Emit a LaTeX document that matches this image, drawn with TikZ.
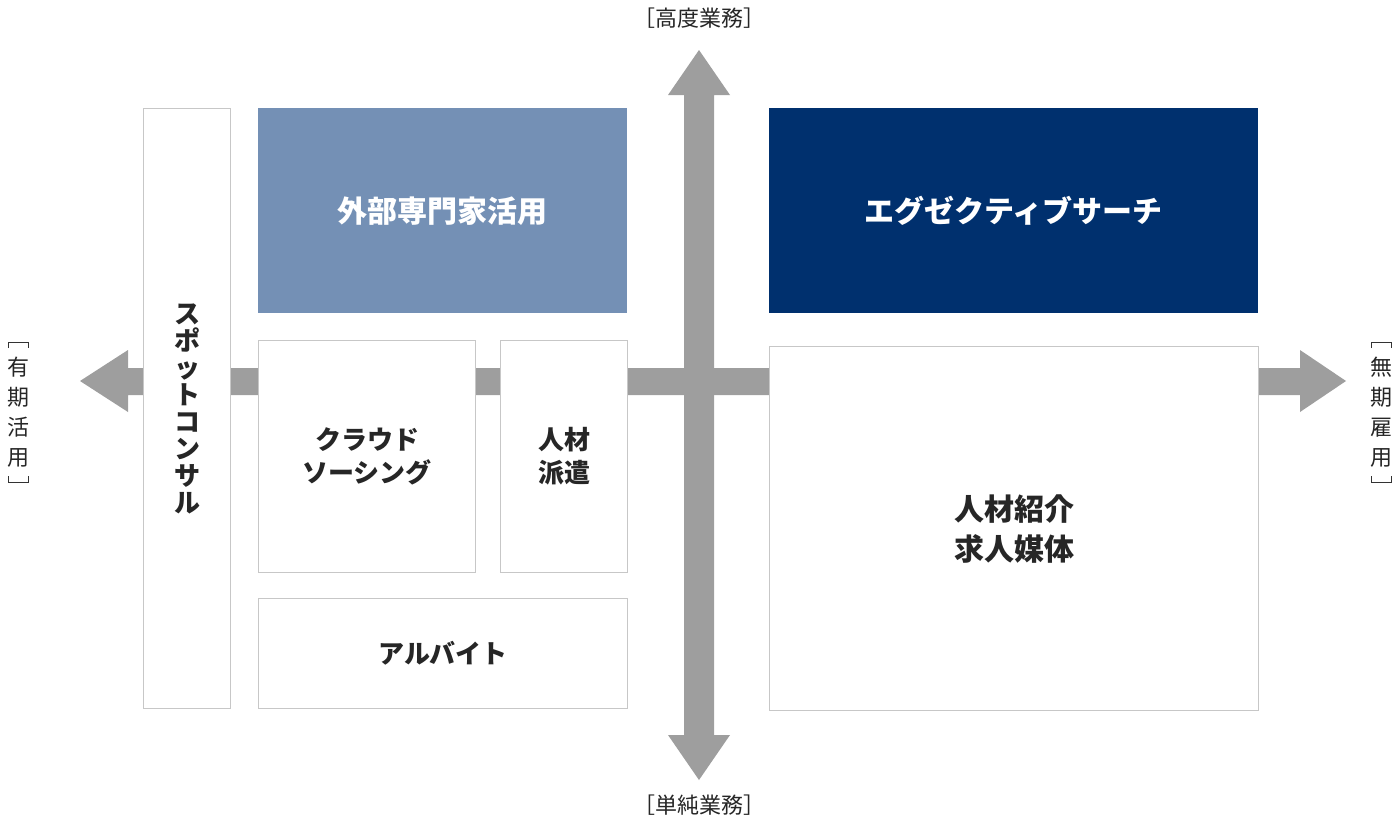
\documentclass[tikz,border=0pt]{standalone}
\usepackage{fontspec}
\setmainfont{Noto Sans CJK JP}
\begin{document}
\begin{tikzpicture}[x=1pt,y=-1pt,
  bx/.style={draw=black!22,line width=1.2pt,fill=white},
  lab/.style={font=\fontsize{26}{33}\selectfont\bfseries,align=center,text=black!85},
  big/.style={font=\fontsize{30}{40}\selectfont\bfseries,align=center},
  ax/.style={font=\fontsize{22}{26}\selectfont,text=black!85},
  axv/.style={font=\fontsize{22}{30}\selectfont,text=black!85,align=center},
  arr/.style={fill=black!38}]
\useasboundingbox (0,0) rectangle (1400,828);
% arrows
\fill[arr] (699,50) -- (730,95) -- (714,95) -- (714,735) -- (730,735) -- (699,780) -- (668,735) -- (684,735) -- (684,95) -- (668,95) -- cycle;
\fill[arr] (80,381) -- (128,350) -- (128,368) -- (1300,368) -- (1300,350) -- (1346,381) -- (1300,412) -- (1300,395) -- (128,395) -- (128,412) -- cycle;
% boxes
\node[bx,minimum width=87,minimum height=600,anchor=north west] (spot) at (143,108) {};
\node[lab,font=\fontsize{26}{27}\selectfont\bfseries] at (spot.center) {ス\\ポ\\ッ\\ト\\コ\\ン\\サ\\ル};
\node[fill={rgb,255:red,116;green,144;blue,181},minimum width=369,minimum height=205,anchor=north west,big,text=white] (gaibu) at (258,108) {外部専門家活用};
\node[fill={rgb,255:red,0;green,48;blue,110},minimum width=489,minimum height=205,anchor=north west,big,text=white] (exec) at (769,108) {エグゼクティブサーチ};
\node[bx,minimum width=217,minimum height=232,anchor=north west] (crowd) at (258,340) {};
\node[lab] at (crowd.center) {クラウド\\ソーシング};
\node[bx,minimum width=127,minimum height=232,anchor=north west] (haken) at (500,340) {};
\node[lab] at (haken.center) {人材\\派遣};
\node[bx,minimum width=369,minimum height=110,anchor=north west] (arb) at (258,598) {};
\node[lab] at (arb.center) {アルバイト};
\node[bx,minimum width=489,minimum height=364,anchor=north west] (shokai) at (769,346) {};
\node[big,text=black!85] at (shokai.center) {人材紹介\\求人媒体};
% axis labels
\node[ax] (top) at (699,18) {［高度業務］};
\node[ax] (bot) at (699,805) {［単純業務］};
\node[axv] (left) at (18,412) {有\\期\\活\\用};
\node[axv] (right) at (1381,412) {無\\期\\雇\\用};
\foreach \x in {18,1381}{
  \draw[black!80,line width=0.8pt] (\x-10,348) -- (\x-10,342) -- (\x+10,342) -- (\x+10,348);
  \draw[black!80,line width=0.8pt] (\x-10,476) -- (\x-10,482) -- (\x+10,482) -- (\x+10,476);
}
\end{tikzpicture}
\end{document}
